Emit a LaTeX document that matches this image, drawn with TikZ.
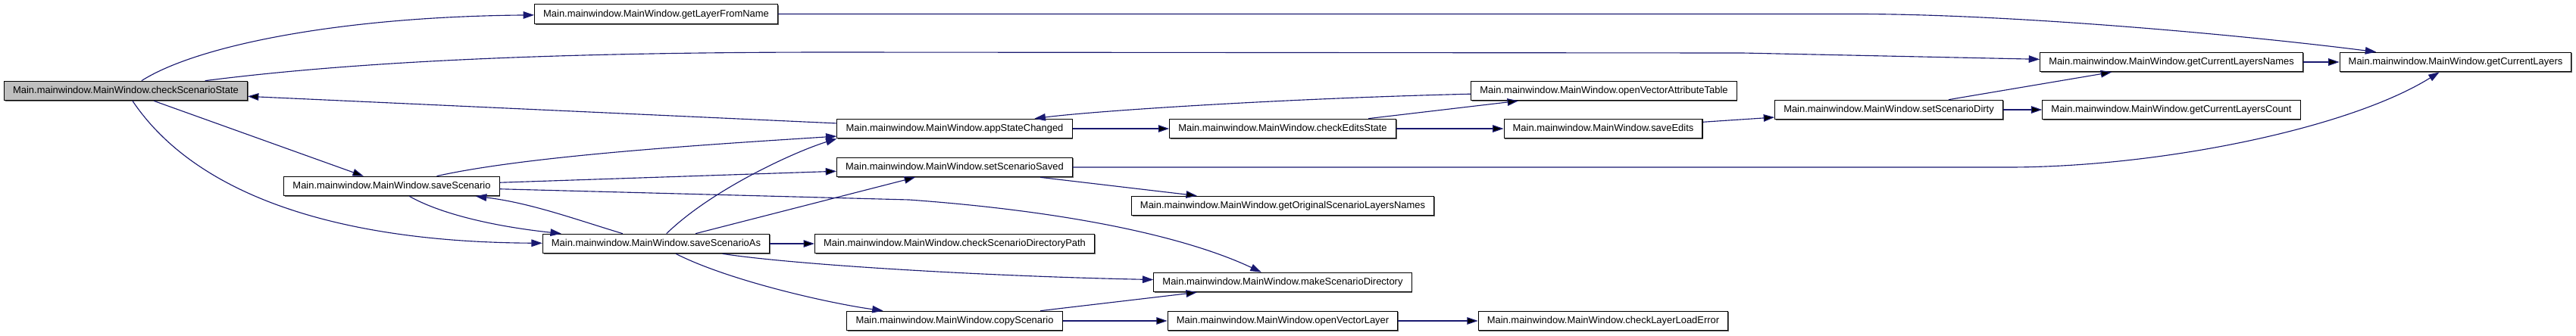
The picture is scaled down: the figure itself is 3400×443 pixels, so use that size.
\documentclass[tikz,border=0pt]{standalone}
\usepackage{fontspec}
\setmainfont{Liberation Sans}
\usepackage{tikz}
\usetikzlibrary{arrows.meta, shadows}
\definecolor{callblue}{HTML}{191970}

\begin{document}
\begin{tikzpicture}[x=0.025cm, y=-0.025cm, >={Triangle[length=0.36cm, width=0.24cm]},
    fn/.style={draw, fill=white, inner xsep=0.29cm, inner ysep=0pt, minimum height=0.64cm,
        text height=0.72em, text depth=0.2em, line width=0.75pt, font=\fontsize{9.2}{11}\selectfont,
        drop shadow={shadow xshift=0.03cm, shadow yshift=-0.03cm, fill=black!60, opacity=1}},
    call/.style={->, draw=callblue, line width=0.8pt}]
    \useasboundingbox (0,0) rectangle (3400,443);

    \node[fn, fill=black!25] (cs) at (166,120) {Main.mainwindow.MainWindow.checkScenarioState};
    \node[fn] (gl) at (866,18.5) {Main.mainwindow.MainWindow.getLayerFromName};
    \node[fn] (ss) at (517,246) {Main.mainwindow.MainWindow.saveScenario};
    \node[fn] (ssa) at (866,322) {Main.mainwindow.MainWindow.saveScenarioAs};
    \node[fn] (asc) at (1260,170) {Main.mainwindow.MainWindow.appStateChanged};
    \node[fn] (sss) at (1260,221) {Main.mainwindow.MainWindow.setScenarioSaved};
    \node[fn] (csdp) at (1260,322) {Main.mainwindow.MainWindow.checkScenarioDirectoryPath};
    \node[fn] (cps) at (1260,424) {Main.mainwindow.MainWindow.copyScenario};
    \node[fn] (ces) at (1693,170) {Main.mainwindow.MainWindow.checkEditsState};
    \node[fn] (gosl) at (1693,272) {Main.mainwindow.MainWindow.getOriginalScenarioLayersNames};
    \node[fn] (msd) at (1693,373) {Main.mainwindow.MainWindow.makeScenarioDirectory};
    \node[fn] (ovl) at (1693,424) {Main.mainwindow.MainWindow.openVectorLayer};
    \node[fn] (ovat) at (2117,120) {Main.mainwindow.MainWindow.openVectorAttributeTable};
    \node[fn] (se) at (2116,170) {Main.mainwindow.MainWindow.saveEdits};
    \node[fn] (clle) at (2116,424) {Main.mainwindow.MainWindow.checkLayerLoadError};
    \node[fn] (ssd) at (2493,145) {Main.mainwindow.MainWindow.setScenarioDirty};
    \node[fn] (gcln) at (2866,82) {Main.mainwindow.MainWindow.getCurrentLayersNames};
    \node[fn] (gclc) at (2866,145) {Main.mainwindow.MainWindow.getCurrentLayersCount};
    \node[fn] (gcl) at (3241,82) {Main.mainwindow.MainWindow.getCurrentLayers};

    % straight calls
    \path[call]
    (asc) edge (cs)
    (cs) edge (ss)
    (ss) edge (sss)
    (ssa) edge (sss)
    (ssa) edge (csdp)
    (asc) edge (ces)
    (ces) edge (ovat)
    (ces) edge (se)
    (se) edge (ssd)
    (ssd) edge (gcln)
    (ssd) edge (gclc)
    (gcln) edge (gcl)
    (sss) edge (gosl)
    (cps) edge (msd)
    (cps) edge (ovl)
    (ovl) edge (clle);

    % curved calls
    \draw[call] (cs) .. controls (260,60) and (450,22) .. (gl);
    \draw[call] (cs) .. controls (480,80) and (750,69) .. (1100,69) -- (2300,70) -- (gcln);
    \draw[call] (cs) .. controls (260,260) and (450,320) .. (ssa);
    \draw[call] (gl) -- (2450,18.5) .. controls (2650,18.5) and (2950,45) .. (gcl);
    \draw[call] (ss) .. controls (700,205) and (950,190) .. (asc);
    \draw[call] (ss) -- (1200,264) .. controls (1420,280) and (1570,315) .. (msd);
    \draw[call] (ss) .. controls (580,282) and (650,299) .. (ssa);
    \draw[call] (ssa) .. controls (760,290) and (700,268) .. (ss);
    \draw[call] (ssa) .. controls (940,250) and (1050,200) .. (asc.south west);
    \draw[call] (ssa) .. controls (1050,350) and (1300,365) .. (msd);
    \draw[call] (ssa) .. controls (960,370) and (1090,400) .. (cps);
    \draw[call] (ovat) .. controls (1700,130) and (1450,146) .. (asc);
    \draw[call] (sss) -- (2650,221) .. controls (2850,221) and (3100,170) .. (gcl);
\end{tikzpicture}
\end{document}
